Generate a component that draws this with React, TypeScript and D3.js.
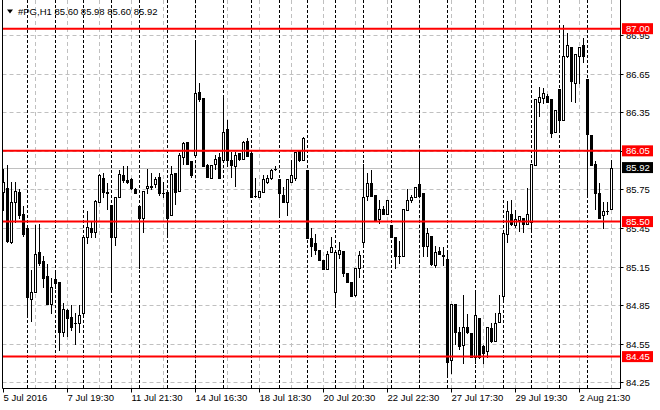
import React, { useEffect, useRef } from 'react';
import * as d3 from 'd3';

// OHLC of #PG, H1 (bar 0 = 5 Jul 2016 17:30)
const opens = [
  85.73, 85.76, 85.34, 85.65, 85.73, 85.56, 85.45, 84.90, 84.95, 85.26, 85.19, 85.08, 84.86, 85.05, 85.03, 84.64,
  84.81, 84.76, 84.71, 84.71, 84.79, 85.38, 85.45, 85.42, 85.65, 85.84, 85.73, 85.63, 85.38, 85.69, 85.86, 85.82,
  85.83, 85.75, 85.62, 85.53, 85.76, 85.78, 85.79, 85.85, 85.72, 85.73, 85.55, 85.88, 85.74, 86.00, 86.12, 85.97,
  86.02, 86.51, 86.46, 85.94, 85.84, 85.95, 86.00, 85.98, 86.22, 85.98, 85.93, 86.03, 85.99, 86.13, 86.03, 85.70,
  85.69, 85.73, 85.81, 85.84, 85.91, 85.83, 85.71, 85.65, 85.81, 85.84, 86.06, 85.98, 85.90, 85.37, 85.33, 85.28,
  85.20, 85.13, 85.26, 84.95, 85.25, 85.27, 85.10, 85.03, 84.93, 85.14, 85.34, 85.70, 85.80, 85.71, 85.52, 85.60,
  85.56, 85.47, 85.38, 85.23, 85.23, 85.59, 85.67, 85.69, 85.79, 85.72, 85.31, 85.39, 85.16, 85.27, 85.24, 85.21,
  84.42, 84.86, 84.64, 84.54, 84.68, 84.63, 84.45, 84.75, 84.53, 84.49, 84.67, 84.57, 84.72, 84.92, 85.40, 85.56,
  85.47, 85.51, 85.53, 85.48, 85.50, 85.94, 86.43, 86.46, 86.48, 86.45, 86.20, 86.53, 86.29, 86.79, 86.86, 86.58,
  86.79, 86.87, 86.61, 86.17, 85.95, 85.72, 85.55, 85.58, 85.60,
];
const highs = [
  85.91, 85.94, 85.81, 85.81, 85.75, 85.62, 85.45, 85.12, 85.47, 85.48, 85.23, 85.17, 85.06, 85.12, 85.03, 84.87,
  84.82, 84.85, 84.79, 84.85, 85.38, 85.58, 85.50, 85.67, 85.87, 85.88, 85.80, 85.63, 85.69, 85.90, 85.93, 85.93,
  85.84, 85.76, 85.62, 85.74, 85.91, 85.88, 85.85, 85.88, 85.81, 85.73, 85.93, 85.88, 86.03, 86.12, 86.12, 85.97,
  86.89, 86.58, 86.46, 85.95, 85.94, 86.02, 86.03, 86.46, 86.29, 86.04, 86.04, 86.03, 86.13, 86.15, 86.03, 85.84,
  85.74, 85.86, 85.86, 85.91, 85.93, 85.83, 85.77, 85.83, 85.98, 86.04, 86.06, 86.16, 85.90, 85.45, 85.40, 85.28,
  85.20, 85.27, 85.38, 85.26, 85.34, 85.27, 85.10, 85.03, 85.14, 85.27, 85.95, 85.88, 85.90, 85.71, 85.67, 85.62,
  85.67, 85.47, 85.38, 85.35, 85.60, 85.75, 85.71, 85.77, 86.05, 85.72, 85.45, 85.39, 85.31, 85.30, 85.30, 85.27,
  84.86, 84.86, 84.68, 84.93, 84.78, 84.63, 84.97, 84.75, 84.54, 84.68, 84.71, 84.79, 84.93, 85.41, 85.66, 85.67,
  85.59, 85.54, 85.53, 85.76, 85.95, 86.45, 86.55, 86.54, 86.49, 86.45, 86.37, 86.53, 87.03, 86.97, 86.86, 86.80,
  86.86, 86.93, 86.61, 86.17, 85.97, 85.80, 85.65, 85.65, 85.98,
];
const lows = [
  85.59, 85.34, 85.33, 85.50, 85.53, 85.39, 84.76, 84.73, 84.95, 85.16, 84.99, 84.86, 84.79, 84.98, 84.50, 84.61,
  84.61, 84.66, 84.55, 84.64, 84.77, 85.33, 85.38, 85.38, 85.65, 85.69, 85.60, 84.97, 85.32, 85.69, 85.81, 85.80,
  85.75, 85.72, 85.14, 85.42, 85.72, 85.75, 85.77, 85.71, 85.69, 85.39, 85.55, 85.64, 85.74, 85.95, 85.95, 85.85,
  86.02, 86.44, 85.93, 85.85, 85.84, 85.91, 85.84, 85.98, 85.93, 85.85, 85.78, 85.98, 85.99, 86.01, 85.69, 85.69,
  85.69, 85.73, 85.80, 85.83, 85.90, 85.55, 85.65, 85.55, 85.81, 85.82, 85.97, 85.98, 85.37, 85.23, 85.25, 85.20,
  85.13, 85.13, 85.26, 84.85, 85.22, 85.08, 85.03, 84.92, 84.92, 85.07, 85.32, 85.67, 85.70, 85.51, 85.49, 85.56,
  85.56, 85.38, 85.14, 85.18, 85.23, 85.59, 85.65, 85.69, 85.70, 85.23, 85.23, 85.16, 85.15, 85.25, 85.16, 84.29,
  84.32, 84.55, 84.51, 84.40, 84.63, 84.45, 84.40, 84.44, 84.40, 84.45, 84.56, 84.57, 84.72, 84.90, 85.34, 85.47,
  85.46, 85.43, 85.42, 85.48, 85.42, 85.94, 86.32, 86.42, 86.43, 86.16, 86.20, 86.21, 86.29, 86.78, 86.44, 86.43,
  86.58, 86.74, 85.69, 85.94, 85.60, 85.53, 85.45, 85.56, 85.60,
];
const closes = [
  85.81, 85.35, 85.65, 85.74, 85.55, 85.40, 84.91, 84.95, 85.25, 85.18, 85.06, 84.86, 84.99, 85.02, 84.64, 84.82,
  84.75, 84.68, 84.71, 84.77, 85.38, 85.46, 85.42, 85.66, 85.86, 85.73, 85.72, 85.38, 85.69, 85.87, 85.82, 85.81,
  85.76, 85.72, 85.53, 85.74, 85.78, 85.77, 85.83, 85.72, 85.72, 85.53, 85.87, 85.73, 86.02, 86.11, 85.95, 85.86,
  86.50, 86.45, 85.93, 85.85, 85.94, 85.99, 85.84, 86.20, 85.98, 85.94, 86.02, 85.99, 86.12, 86.01, 85.69, 85.70,
  85.74, 85.83, 85.84, 85.90, 85.91, 85.72, 85.65, 85.83, 85.86, 86.04, 85.98, 86.15, 85.37, 85.31, 85.28, 85.20,
  85.13, 85.25, 85.30, 85.26, 85.28, 85.10, 85.03, 84.92, 85.14, 85.24, 85.69, 85.80, 85.70, 85.51, 85.60, 85.56,
  85.67, 85.38, 85.23, 85.23, 85.60, 85.67, 85.69, 85.77, 85.70, 85.31, 85.41, 85.17, 85.26, 85.25, 85.23, 84.41,
  84.86, 84.64, 84.53, 84.68, 84.64, 84.45, 84.77, 84.45, 84.48, 84.68, 84.57, 84.71, 84.79, 85.41, 85.58, 85.48,
  85.52, 85.54, 85.48, 85.56, 85.95, 86.45, 86.47, 86.50, 86.43, 86.19, 86.37, 86.29, 86.79, 86.87, 86.59, 86.80,
  86.86, 86.79, 86.18, 85.94, 85.72, 85.53, 85.58, 85.58, 85.92,
];

// hourly bars per trading day, 5 Jul .. 3 Aug
const barsPerDay = [6, 7, 7, 7, 7, 7, 7, 7, 7, 7, 7, 7, 7, 7, 7, 7, 7, 7, 7, 7, 7, 7];

const timeLabels = [
  '5 Jul 2016', '7 Jul 19:30', '11 Jul 21:30', '14 Jul 16:30', '18 Jul 18:30',
  '20 Jul 20:30', '22 Jul 22:30', '27 Jul 17:30', '29 Jul 19:30', '2 Aug 21:30',
];
const timeLabelBars = [0, 16, 32, 48, 64, 80, 96, 112, 128, 144];

const priceTicks = [86.95, 86.65, 86.35, 86.05, 85.75, 85.45, 85.15, 84.85, 84.55, 84.25];
const levels = [87.0, 86.05, 85.5, 84.45];
const bid = 85.92;
const header = '#PG,H1 85.60 85.98 85.60 85.92';

const W = 660;
const H = 410;
const FONT = '"Liberation Sans", Arial, sans-serif';

const App: React.FC = () => {
  const ref = useRef<SVGSVGElement>(null);

  useEffect(() => {
    if (!ref.current) return;
    const svg = d3.select(ref.current);
    svg.selectAll('*').remove();

    const left = 2.5;
    const right = 620.5;
    const bottom = 388.5;

    const n = opens.length;
    const x = d3.scaleLinear().domain([0, n - 1]).range([3, 3 + 4 * (n - 1)]);
    const y = d3.scaleLinear().domain([84.206, 87.223]).range([388, 0]);
    const py = (v: number) => Math.round(y(v));

    svg.append('rect').attr('width', W).attr('height', H).attr('fill', '#fff');

    const plot = svg.append('g');

    // gray grid
    plot.selectAll('.hgrid')
      .data(priceTicks)
      .enter()
      .append('line')
      .attr('x1', left)
      .attr('x2', right)
      .attr('y1', d => py(d) + 0.5)
      .attr('y2', d => py(d) + 0.5)
      .attr('stroke', '#c0c0c0')
      .attr('stroke-dasharray', '4,3');

    const gridBars = d3.range(8, n, 8);
    plot.selectAll('.vgrid')
      .data(gridBars)
      .enter()
      .append('line')
      .attr('x1', d => x(d) + 0.5)
      .attr('x2', d => x(d) + 0.5)
      .attr('y1', 0)
      .attr('y2', bottom)
      .attr('stroke', '#c0c0c0')
      .attr('stroke-dasharray', '4,3');

    // day separators
    const dayStarts = d3.cumsum(barsPerDay).slice(0, -1);
    plot.selectAll('.sep')
      .data(Array.from(dayStarts))
      .enter()
      .append('line')
      .attr('x1', d => x(d) + 0.5)
      .attr('x2', d => x(d) + 0.5)
      .attr('y1', 0)
      .attr('y2', bottom)
      .attr('stroke', '#000')
      .attr('stroke-dasharray', '3,2');

    // bid line
    plot.append('line')
      .attr('x1', left)
      .attr('x2', right)
      .attr('y1', py(bid) + 0.5)
      .attr('y2', py(bid) + 0.5)
      .attr('stroke', '#c0c0c0');

    // candles
    const bars = d3.range(n);
    const candles = plot.selectAll('.candle').data(bars).enter().append('g');

    candles.append('line')
      .attr('x1', i => x(i) + 0.5)
      .attr('x2', i => x(i) + 0.5)
      .attr('y1', i => py(highs[i]))
      .attr('y2', i => py(lows[i]) + 1)
      .attr('stroke', '#000');

    candles.append('rect')
      .each(function (i) {
        const up = closes[i] > opens[i];
        const top = py(Math.max(opens[i], closes[i]));
        const bot = py(Math.min(opens[i], closes[i]));
        const r = d3.select(this);
        if (up && bot - top >= 1) {
          r.attr('x', x(i) - 0.5)
            .attr('y', top + 0.5)
            .attr('width', 2)
            .attr('height', bot - top)
            .attr('fill', '#fff')
            .attr('stroke', '#000');
        } else {
          r.attr('x', x(i) - 1)
            .attr('y', top)
            .attr('width', 3)
            .attr('height', Math.max(bot - top + 1, 1))
            .attr('fill', '#000');
        }
      });

    // horizontal levels
    plot.selectAll('.level')
      .data(levels)
      .enter()
      .append('line')
      .attr('x1', left)
      .attr('x2', right)
      .attr('y1', d => y(d))
      .attr('y2', d => y(d))
      .attr('stroke', '#ff0000')
      .attr('stroke-width', 2);

    // frame
    svg.append('path')
      .attr('d', `M${left},0V${bottom}H${right}V0`)
      .attr('fill', 'none')
      .attr('stroke', '#000');

    // price axis
    const pAxis = svg.append('g');
    pAxis.selectAll('.ptick')
      .data(priceTicks)
      .enter()
      .append('line')
      .attr('x1', right)
      .attr('x2', right + 3)
      .attr('y1', d => py(d) + 0.5)
      .attr('y2', d => py(d) + 0.5)
      .attr('stroke', '#000');

    pAxis.selectAll('.plabel')
      .data(priceTicks)
      .enter()
      .append('text')
      .attr('x', 626)
      .attr('y', d => py(d) + 4)
      .attr('font-family', FONT)
      .attr('font-size', '9.5px')
      .attr('fill', '#000')
      .text(d => d.toFixed(2));

    const boxes = [
      ...levels.map(v => ({ v, fill: '#ff0000' })),
      { v: bid, fill: '#000' },
    ];
    const box = pAxis.selectAll('.pbox').data(boxes).enter().append('g');
    box.append('rect')
      .attr('x', 622)
      .attr('y', d => y(d.v) - 5.5)
      .attr('width', 31)
      .attr('height', 11)
      .attr('fill', d => d.fill);
    box.append('text')
      .attr('x', 626)
      .attr('y', d => y(d.v) + 3.5)
      .attr('font-family', FONT)
      .attr('font-size', '9.5px')
      .attr('fill', '#fff')
      .text(d => d.v.toFixed(2));

    // time axis
    const tAxis = svg.append('g');
    tAxis.selectAll('.ttick')
      .data(timeLabelBars)
      .enter()
      .append('line')
      .attr('x1', d => x(d) + 0.5)
      .attr('x2', d => x(d) + 0.5)
      .attr('y1', bottom)
      .attr('y2', bottom + 4)
      .attr('stroke', '#000');

    tAxis.selectAll('.tlabel')
      .data(timeLabelBars)
      .enter()
      .append('text')
      .attr('x', d => x(d) + 0.5)
      .attr('y', 401)
      .attr('font-family', FONT)
      .attr('font-size', '9.5px')
      .attr('fill', '#000')
      .text((_, i) => timeLabels[i]);

    // header
    svg.append('path')
      .attr('d', 'M7,9.5H13L10,13.5Z')
      .attr('fill', '#000');
    svg.append('text')
      .attr('x', 18)
      .attr('y', 15)
      .attr('font-family', FONT)
      .attr('font-size', '9.5px')
      .attr('fill', '#000')
      .text(header);
  }, []);

  return (
    <svg
      ref={ref}
      width={W}
      height={H}
      style={{ position: 'absolute', left: 0, top: 0, display: 'block' }}
    />
  );
};

export default App;
